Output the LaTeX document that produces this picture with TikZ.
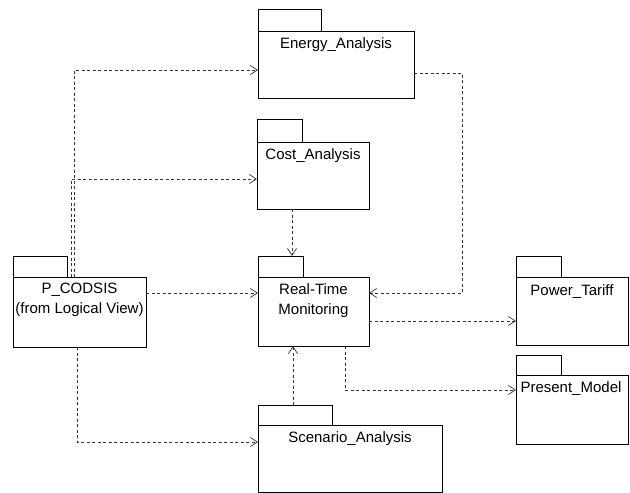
\documentclass[tikz,border=0pt]{standalone}
\usepackage{fontspec}
\setmainfont{Liberation Sans}
\usetikzlibrary{arrows.meta,calc}

\tikzset{
  pkgbody/.style={draw=black, line width=0.8pt, rectangle, inner sep=0pt,
    outer sep=0pt, anchor=north west},
  pkgtab/.style={draw=black, line width=0.8pt, rectangle, inner sep=0pt,
    outer sep=0pt, anchor=south west, minimum height=21pt},
  pkgtext/.style={anchor=north, inner sep=0pt, align=center,
    font=\fontsize{15}{20}\selectfont},
  dep/.style={draw=black!80, line width=0.7pt, dash pattern=on 3pt off 2.5pt,
    -{Straight Barb[length=7pt,width=9pt,line width=0.7pt]}}
}

\begin{document}
\begin{tikzpicture}[x=1pt,y=-1pt]
  \useasboundingbox (0,0) rectangle (630,493);

  % package bodies
  \node[pkgbody, minimum width=133pt, minimum height=70pt] (pcodsis) at (13,277) {};
  \node[pkgbody, minimum width=156pt, minimum height=67pt] (energy) at (258,31) {};
  \node[pkgbody, minimum width=112pt, minimum height=67pt] (cost) at (257,142) {};
  \node[pkgbody, minimum width=111pt, minimum height=69pt] (rtm) at (258,277) {};
  \node[pkgbody, minimum width=112pt, minimum height=68pt] (tariff) at (516,277) {};
  \node[pkgbody, minimum width=112pt, minimum height=69pt] (present) at (516,375) {};
  \node[pkgbody, minimum width=184pt, minimum height=67pt] (scenario) at (258,425) {};

  % package tabs
  \node[pkgtab, minimum width=54pt] (pcodsis-tab) at (pcodsis.north west) {};
  \node[pkgtab, minimum width=63pt, minimum height=22pt] (energy-tab) at (energy.north west) {};
  \node[pkgtab, minimum width=45pt, minimum height=23pt] (cost-tab) at (cost.north west) {};
  \node[pkgtab, minimum width=45pt] (rtm-tab) at (rtm.north west) {};
  \node[pkgtab, minimum width=45pt] (tariff-tab) at (tariff.north west) {};
  \node[pkgtab, minimum width=45pt, minimum height=20pt] (present-tab) at (present.north west) {};
  \node[pkgtab, minimum width=74pt, minimum height=20pt] (scenario-tab) at (scenario.north west) {};

  % package names
  \node[pkgtext] (pcodsis-t) at ($(pcodsis.north)+(0,6)$) {P\_CODSIS\\(from Logical View)};
  \node[pkgtext] (energy-t) at ($(energy.north)+(0,6)$) {Energy\_Analysis};
  \node[pkgtext] (cost-t) at ($(cost.north)+(0,6)$) {Cost\_Analysis};
  \node[pkgtext] (rtm-t) at ($(rtm.north)+(0,6)$) {Real-Time\\Monitoring};
  \node[pkgtext] (tariff-t) at ($(tariff.north)+(0,7)$) {Power\_Tariff};
  \node[pkgtext] (present-t) at ($(present.north)+(-1,6)$) {Present\_Model};
  \node[pkgtext] (scenario-t) at ($(scenario.north)+(0,6)$) {Scenario\_Analysis};

  % dependencies
  \draw[dep] ($(pcodsis.north west)+(61,0)$) |- ($(energy.north west)+(0,39)$);
  \draw[dep] ($(pcodsis.north west)+(58,0)$) |- ($(cost.north west)+(0,37)$);
  \draw[dep] ($(pcodsis.north east)+(0,16)$) -- ($(rtm.north west)+(0,16)$);
  \draw[dep] ($(pcodsis.south west)+(64,0)$) |- ($(scenario.north west)+(0,17)$);
  \draw[dep] ($(cost.south west)+(35,0)$) -- ($(rtm-tab.north west)+(34,0)$);
  \draw[dep] ($(energy.north east)+(0,42)$) -| (462,293) -- ($(rtm.north east)+(0,16)$);
  \draw[dep] ($(rtm.north east)+(0,44)$) -- ($(tariff.north west)+(0,44)$);
  \draw[dep] ($(rtm.south west)+(87,0)$) |- ($(present.north west)+(0,15)$);
  \draw[dep] ($(scenario-tab.north west)+(35,0)$) -- ($(rtm.south west)+(35,0)$);
\end{tikzpicture}
\end{document}
